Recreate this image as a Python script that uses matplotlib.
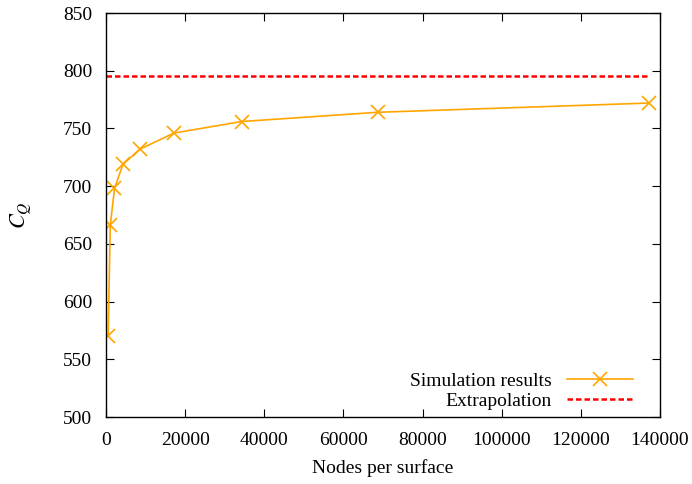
import numpy as np
import matplotlib.pyplot as plt

plt.rcParams['font.family'] = ['Liberation Serif', 'DejaVu Serif']
plt.rcParams['mathtext.fontset'] = 'stix'

# simulation results: nodes per surface vs C_Q
nodes = [536, 1072, 2144, 4288, 8576, 17152, 34304, 68608, 137216]
cq = [570, 666, 698, 719, 732, 746, 756, 764, 772]

# extrapolated value
cq_extrap = 795.5
extrap_x = [0, 137216]

fig = plt.figure(figsize=(6.92, 4.84), dpi=100)
ax = fig.add_axes([0.1532, 0.1384, 0.8006, 0.8347])

ax.plot(nodes, cq, '-', color='orange', marker='x', markersize=10,
        markeredgewidth=1.2, linewidth=1.2, label='Simulation results')
ax.plot(extrap_x, [cq_extrap, cq_extrap], '--', color='red',
        linewidth=1.8, dashes=(2.2, 1.2), label='Extrapolation')

ax.set_xlim(0, 140000)
ax.set_ylim(500, 850)
ax.set_xticks(np.arange(0, 140001, 20000))
ax.set_yticks(np.arange(500, 851, 50))
ax.tick_params(direction='in', top=True, right=True, labelsize=14,
               length=6, width=0.8)
ax.tick_params(axis='x', pad=11)
ax.tick_params(axis='y', pad=10)
for s in ax.spines.values():
    s.set_linewidth(1.0)

ax.set_xlabel('Nodes per surface', fontsize=14, labelpad=7)
ax.set_ylabel('$C_Q$', fontsize=16, labelpad=21)

ax.legend(loc='lower right', bbox_to_anchor=(0.969, -0.007), frameon=False,
          markerfirst=False, fontsize=14, handlelength=3.4, handletextpad=0.8,
          labelspacing=0.15, borderaxespad=0.2, borderpad=0.3)

fig.savefig('out.png', dpi=100)
